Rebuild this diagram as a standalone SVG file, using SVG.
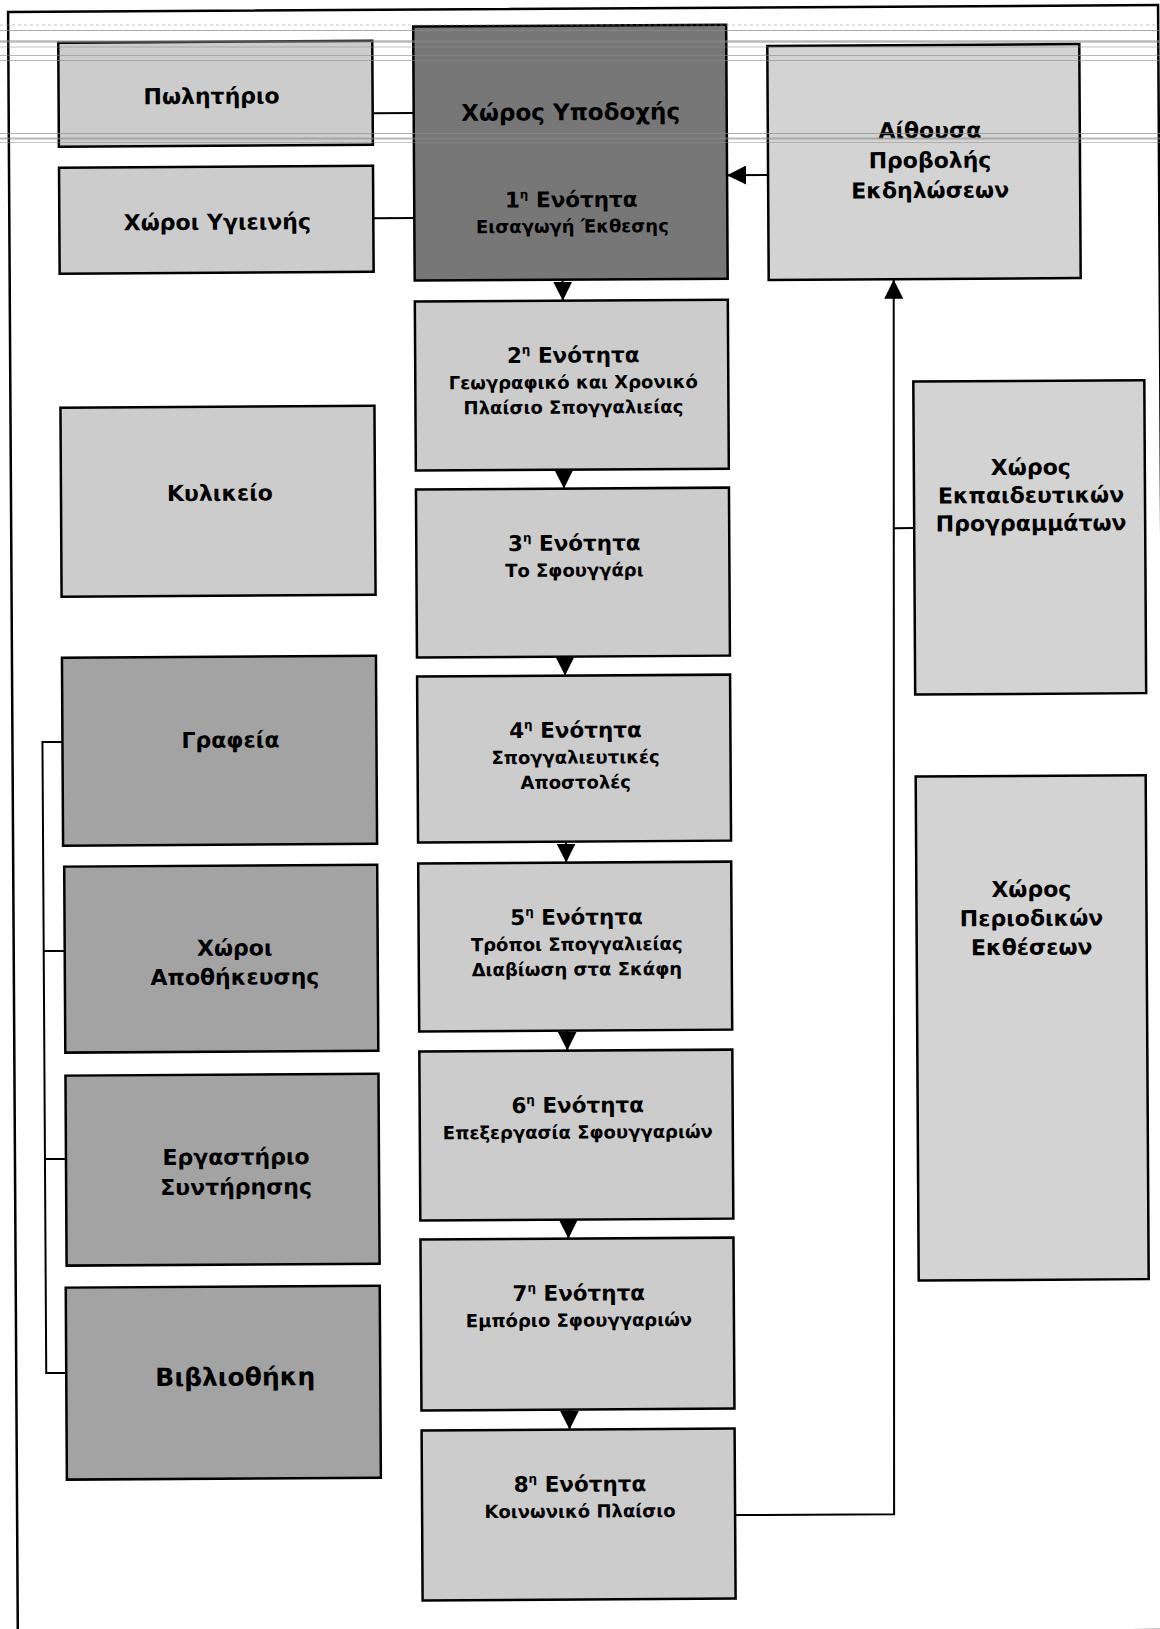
<svg xmlns="http://www.w3.org/2000/svg" width="1160" height="1629" viewBox="0 0 1160 1629">
<defs>
<style>
.node rect{stroke:#000;stroke-width:2.5}
.light rect{fill:#cccccc}
.pale rect{fill:#d3d3d3}
.mid rect{fill:#a3a3a3}
.dark rect{fill:#777777}
text{font-family:"DejaVu Sans","Liberation Sans",Arial,sans-serif;font-weight:bold;fill:#000;text-anchor:middle}
.lbl{font-size:22px}
.hdr{font-size:23px}
.big{font-size:25px}
.ttl{font-size:21.5px}
.sub{font-size:18px}
.sup{font-size:12px}
.conn line,.conn polyline{stroke:#000;stroke-width:2;fill:none}
.arr{marker-end:url(#ah)}
.scan line{stroke:#8c8c8c}
</style>
<marker id="ah" viewBox="0 0 18 18" markerWidth="19" markerHeight="19" refX="18" refY="9" orient="auto" markerUnits="userSpaceOnUse">
<path d="M0,0 L18,9 L0,18 Z" fill="#000"/>
</marker>
</defs>
<rect width="1160" height="1629" fill="#fff"/>
<g id="diagram" transform="rotate(-0.344)">
<rect id="frame" x="8" y="12" width="1150" height="1625" fill="none" stroke="#000" stroke-width="2.5"/>

<g id="connectors" class="conn">
<line x1="372" y1="115.5" x2="413" y2="115.5"/>
<line x1="372" y1="220.5" x2="413" y2="220.5"/>
<line class="arr" x1="767" y1="179.5" x2="726" y2="179.5"/>
<line class="arr" x1="561" y1="283" x2="561" y2="304"/>
<line class="arr" x1="561" y1="473" x2="561" y2="492"/>
<line class="arr" x1="561" y1="660" x2="561" y2="679"/>
<line class="arr" x1="561" y1="845" x2="561" y2="866"/>
<line class="arr" x1="561" y1="1034" x2="561" y2="1054"/>
<line class="arr" x1="561" y1="1223" x2="561" y2="1242"/>
<line class="arr" x1="561" y1="1413" x2="561" y2="1433"/>
<polyline class="arr" points="726,1519.5 885,1519.5 892,285"/>
<line x1="891" y1="533.5" x2="911" y2="533.5"/>
<polyline points="58,742.3 38,742.3 38,1373.3 58,1373.3"/>
<line x1="38" y1="951.3" x2="59" y2="951.3"/>
<line x1="38" y1="1159.3" x2="59" y2="1159.3"/>
</g>

<g id="n-pwlhthrio" class="node light"><rect x="58" y="43" width="314" height="104"/><text class="lbl" x="211" y="105">Πωλητήριο</text></g>
<g id="n-ygieinis" class="node light"><rect x="58" y="168" width="314" height="106"/><text class="lbl" x="216" y="231">Χώροι Υγιεινής</text></g>
<g id="n-kylikeio" class="node light"><rect x="58" y="408" width="314" height="189"/><text class="lbl" x="217" y="502">Κυλικείο</text></g>
<g id="n-grafeia" class="node mid"><rect x="58" y="658" width="314" height="188"/><text class="lbl" x="226" y="749">Γραφεία</text></g>
<g id="n-apothikeusi" class="node mid"><rect x="59" y="867" width="313" height="186"/><text class="lbl" x="229" y="957">Χώροι</text><text class="lbl" x="229" y="986">Αποθήκευσης</text></g>
<g id="n-ergastirio" class="node mid"><rect x="59" y="1076" width="313" height="190"/><text class="lbl" x="229" y="1166">Εργαστήριο</text><text class="lbl" x="229" y="1196">Συντήρησης</text></g>
<g id="n-vivliothiki" class="node mid"><rect x="58" y="1288" width="314" height="192"/><text class="big" x="227" y="1387">Βιβλιοθήκη</text></g>

<g id="n-enotita1" class="node dark"><rect x="413" y="29" width="313" height="254"/><text class="hdr" x="570" y="123.5">Χώρος Υποδοχής</text><text class="ttl" x="570" y="210.5">1<tspan class="sup" dy="-9">η</tspan><tspan dy="9"> Ενότητα</tspan></text><text class="sub" x="571" y="236">Εισαγωγή Έκθεσης</text></g>
<g id="n-enotita2" class="node light"><rect x="413" y="304" width="313" height="169"/><text class="ttl" x="571" y="366">2<tspan class="sup" dy="-9">η</tspan><tspan dy="9"> Ενότητα</tspan></text><text class="sub" x="571" y="392">Γεωγραφικό και Χρονικό</text><text class="sub" x="571" y="417">Πλαίσιο Σπογγαλιείας</text></g>
<g id="n-enotita3" class="node light"><rect x="413" y="492" width="313" height="168"/><text class="ttl" x="571" y="554">3<tspan class="sup" dy="-9">η</tspan><tspan dy="9"> Ενότητα</tspan></text><text class="sub" x="571" y="580">Το Σφουγγάρι</text></g>
<g id="n-enotita4" class="node light"><rect x="413" y="679" width="313" height="166"/><text class="ttl" x="571" y="741">4<tspan class="sup" dy="-9">η</tspan><tspan dy="9"> Ενότητα</tspan></text><text class="sub" x="571" y="767">Σπογγαλιευτικές</text><text class="sub" x="571" y="792">Αποστολές</text></g>
<g id="n-enotita5" class="node light"><rect x="413" y="866" width="313" height="168"/><text class="ttl" x="571" y="928">5<tspan class="sup" dy="-9">η</tspan><tspan dy="9"> Ενότητα</tspan></text><text class="sub" x="571" y="954">Τρόποι Σπογγαλιείας</text><text class="sub" x="571" y="979">Διαβίωση στα Σκάφη</text></g>
<g id="n-enotita6" class="node light"><rect x="413" y="1054" width="313" height="169"/><text class="ttl" x="571" y="1116">6<tspan class="sup" dy="-9">η</tspan><tspan dy="9"> Ενότητα</tspan></text><text class="sub" x="571" y="1142">Επεξεργασία Σφουγγαριών</text></g>
<g id="n-enotita7" class="node light"><rect x="413" y="1242" width="313" height="171"/><text class="ttl" x="571" y="1304">7<tspan class="sup" dy="-9">η</tspan><tspan dy="9"> Ενότητα</tspan></text><text class="sub" x="571" y="1330">Εμπόριο Σφουγγαριών</text></g>
<g id="n-enotita8" class="node light"><rect x="413" y="1433" width="313" height="170"/><text class="ttl" x="571" y="1495">8<tspan class="sup" dy="-9">η</tspan><tspan dy="9"> Ενότητα</tspan></text><text class="sub" x="571" y="1521">Κοινωνικό Πλαίσιο</text></g>

<g id="n-aithousa" class="node pale"><rect x="767" y="50.5" width="312" height="234"/><text class="lbl" x="929" y="143.5">Αίθουσα</text><text class="lbl" x="929" y="173.5">Προβολής</text><text class="lbl" x="929" y="203.5">Εκδηλώσεων</text></g>
<g id="n-ekpaideutika" class="node pale"><rect x="911" y="387" width="231" height="313"/><text class="lbl" x="1028" y="481">Χώρος</text><text class="lbl" x="1028" y="509">Εκπαιδευτικών</text><text class="lbl" x="1028" y="537">Προγραμμάτων</text></g>
<g id="n-periodikes" class="node pale"><rect x="911" y="782" width="230" height="504"/><text class="lbl" x="1026" y="903">Χώρος</text><text class="lbl" x="1026" y="932">Περιοδικών</text><text class="lbl" x="1026" y="961">Εκθέσεων</text></g>
</g>

<g id="scan" class="scan">
<line x1="0" y1="25" x2="1160" y2="25" stroke-width="1" stroke-dasharray="3 3" opacity="0.5"/>
<line x1="0" y1="30.5" x2="1160" y2="30.5" stroke-width="1" opacity="0.7"/>
<line x1="0" y1="41.5" x2="1160" y2="41.5" stroke-width="2.5" opacity="0.6"/>
<line x1="0" y1="47" x2="1160" y2="47" stroke-width="1" opacity="0.5"/>
<line x1="0" y1="55.5" x2="1160" y2="55.5" stroke-width="1" opacity="0.6"/>
<line x1="0" y1="60.5" x2="1160" y2="60.5" stroke-width="1" opacity="0.6"/>
<line x1="0" y1="133.5" x2="1160" y2="133.5" stroke-width="1" opacity="0.7"/>
<line x1="0" y1="138.5" x2="1160" y2="138.5" stroke-width="2" opacity="0.6"/>
<line x1="0" y1="142.5" x2="1160" y2="142.5" stroke-width="1" opacity="0.5"/>
</g>
</svg>
